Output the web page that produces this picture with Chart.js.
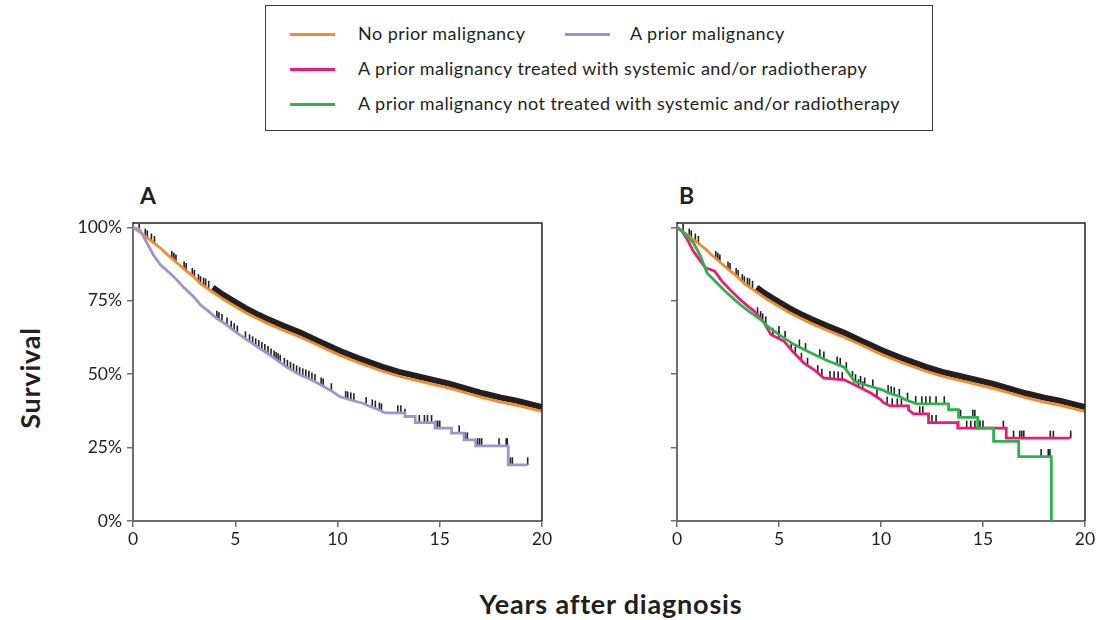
<!DOCTYPE html>
<html lang="en">
<head>
<meta charset="UTF-8">
<title>Survival by prior malignancy</title>
<script src="https://cdn.jsdelivr.net/npm/chart.js"></script>
<style>
  body { margin: 0; background: #fff; font-family: Lato, sans-serif; color: #231f20; }
  #page { position: relative; width: 1099px; height: 620px; overflow: hidden; }
  #legendBox { position: absolute; left: 265px; top: 5px; width: 668px; height: 126px; border: 1.5px solid #3c3c3c; box-sizing: border-box; }
  .key { position: absolute; font-size: 18px; letter-spacing: 0.45px; line-height: 20px; white-space: nowrap; }
  .swatch { position: absolute; width: 45px; height: 3px; }
  .panelTitle { position: absolute; top: 181px; font-size: 23px; font-weight: bold; }
  .axisTitle { position: absolute; font-size: 27px; letter-spacing: 0.8px; font-weight: bold; white-space: nowrap; }
  canvas { position: absolute; top: 180px; }
</style>
</head>
<body>
<div id="page">
  <div id="legendBox"></div>
  <div class="swatch" style="left:290px; top:33px; background:#f38b2a"></div>
  <div class="key" style="left:358px; top:23px">No prior malignancy</div>
  <div class="swatch" style="left:565px; top:33px; background:#9d95d3"></div>
  <div class="key" style="left:630px; top:23px">A prior malignancy</div>
  <div class="swatch" style="left:290px; top:68px; background:#ec1c7d"></div>
  <div class="key" style="left:358px; top:58px">A prior malignancy treated with systemic and/or radiotherapy</div>
  <div class="swatch" style="left:290px; top:103px; background:#2cb34b"></div>
  <div class="key" style="left:358px; top:93px">A prior malignancy not treated with systemic and/or radiotherapy</div>

  <div class="panelTitle" style="left:140px">A</div>
  <div class="panelTitle" style="left:679px">B</div>
  <div class="axisTitle" style="left:29px; top:378px; transform: translate(-50%, -50%) rotate(-90deg)">Survival</div>
  <div class="axisTitle" style="left:611px; top:603px; transform: translate(-50%, -50%)">Years after diagnosis</div>

  <canvas id="chartA" width="560" height="380" style="left:0px"></canvas>
  <canvas id="chartB" width="539" height="380" style="left:560px"></canvas>
</div>

<script>
  // axis ticks
  const xTicks = [0, 5, 10, 15, 20];
  const yTicks = [0, 25, 50, 75, 100];

  // survival curves: [years, % surviving]
  const noPrior = [[0,100],[0.3,98.6],[0.7,96.4],[1.0,94.8],[1.35,92.9],[1.7,90.6],[2.1,88.2],[2.5,85.8],[2.9,83.6],
    [3.3,80.8],[3.9,78.0],[4.4,75.6],[4.9,73.5],[5.5,71.0],[6.0,69.2],[6.55,67.4],[7.35,65.0],[8.2,62.6],[9.0,60.0],
    [10.1,56.5],[11.0,54.0],[12.2,51.0],[13.0,49.3],[13.85,47.9],[15.5,45.2],[16.3,43.6],[17.1,42.0],[18.0,40.5],
    [18.75,39.5],[20.0,37.3]];

  const priorAny = [[0,100],[0.34,99.2],[0.67,94.8],[1.0,90.6],[1.32,87.4],[1.97,83.4],[2.45,79.8],[2.95,76.5],
    [3.3,73.6],[3.7,71.4],[4.09,69.0],[4.5,67.2],[4.9,65.0],[5.5,62.0],[6.2,58.8],[6.8,56.0],[7.5,52.5],[8.17,49.7],
    [8.65,48.4],[9.2,46.3],[9.8,43.9],[10.1,42.4],[10.6,41.3],[11.2,40.2],[11.6,39.0],[12.0,38.0],[12.32,36.8],
    [13.3,36.8],[13.3,35.6],[13.8,35.6],[13.8,33.5],[14.77,33.5],[14.77,31.6],[15.58,31.6],[15.58,29.9],[16.19,29.9],
    [16.19,27.6],[16.76,27.6],[16.76,25.6],[18.35,25.6],[18.35,19.1],[19.3,19.1]];

  const priorTreated = [[0,100],[0.25,98.7],[0.5,95.9],[0.8,91.9],[1.15,88.5],[1.4,86.2],[1.85,85.1],[2.2,81.7],
    [2.6,78.8],[3.1,75.4],[3.5,73.0],[3.8,71.4],[4.27,67.5],[4.6,63.5],[5.25,61.2],[5.74,57.2],[6.23,53.8],[6.72,51.5],
    [7.2,48.7],[8.2,48.1],[8.7,46.4],[9.5,43.6],[10.0,41.3],[10.1,40.4],[10.45,39.2],[11.35,39.2],[11.35,37.9],
    [11.6,36.5],[12.33,36.5],[12.33,33.5],[13.76,33.5],[13.76,31.6],[16.14,31.6],[16.14,28.2],[19.28,28.2]];

  const priorNotTreated = [[0,100],[0.33,98.2],[0.8,94.8],[1.15,90.2],[1.47,84.5],[1.96,81.1],[2.45,77.7],[3.1,73.7],
    [3.5,71.6],[4.1,68.6],[4.5,66.0],[4.93,63.8],[5.74,60.1],[6.57,57.2],[7.38,54.6],[8.2,52.4],[8.5,49.5],[8.7,47.5],
    [9.5,45.8],[10.1,44.6],[10.3,43.8],[10.9,42.4],[11.2,41.3],[11.76,39.9],[13.31,39.9],[13.31,37.9],[13.8,37.9],
    [13.8,35.3],[14.74,35.3],[14.74,31.6],[15.52,31.6],[15.52,27.1],[16.75,27.1],[16.75,21.9],[18.35,21.9],[18.35,0]];

  // censoring marks (tick tops sit just above each curve)
  const noPriorCensor = [[0.3,99.9],[0.6,98.3],[0.7,97.7],[0.9,96.6],[1.05,95.8],[1.9,90.7],[2.0,90.1],[2.1,89.5],
    [2.5,87.1],[2.6,86.6],[2.9,84.9],[3.0,84.2],[3.2,82.8],[3.3,82.1],[3.45,81.6],[3.55,81.3],[3.7,80.5]];
  // from ~4 years the marks merge into a solid band
  const noPriorCensorBand = [[3.9,79.5],[4.4,77.1],[4.9,75.0],[5.5,72.5],[6.0,70.7],[6.55,68.9],[7.35,66.5],[8.2,64.1],
    [9.0,61.5],[10.1,58.0],[11.0,55.5],[12.2,52.5],[13.0,50.8],[13.85,49.4],[15.5,46.7],[16.3,45.1],[17.1,43.5],
    [18.0,42.0],[18.75,41.0],[20.0,38.8]];

  const priorAnyCensor = [[4.1,70.3],[4.2,69.8],[4.35,69.2],[4.6,68.0],[4.8,66.9],[4.95,66.1],[5.1,65.3],[5.5,63.3],
    [5.7,62.3],[5.85,61.6],[6.0,60.9],[6.15,60.3],[6.3,59.7],[6.45,59.0],[6.6,58.3],[6.75,57.5],[6.9,56.8],[7.0,56.3],
    [7.1,55.8],[7.2,55.3],[7.4,54.3],[7.55,53.6],[7.7,52.9],[7.85,52.3],[8.0,51.7],[8.15,51.1],[8.3,50.7],[8.45,50.3],
    [8.6,49.9],[8.75,49.3],[8.9,48.8],[9.2,47.6],[9.3,47.2],[9.7,45.6],[10.4,43.0],[10.5,42.8],[10.65,42.5],[10.8,42.2],
    [11.4,40.9],[11.7,40.1],[11.85,39.7],[12.05,39.1],[12.15,38.7],[12.95,38.1],[13.1,38.1],[13.3,36.9],[13.8,34.8],
    [14.0,34.8],[14.25,34.8],[14.4,34.8],[14.6,34.8],[14.8,32.9],[14.9,32.9],[15.0,32.9],[15.95,31.2],[16.25,28.9],
    [16.35,28.9],[16.85,26.9],[16.95,26.9],[17.05,26.9],[17.9,26.9],[18.25,26.9],[18.3,26.9],[18.45,20.4],[18.55,20.4],
    [19.3,20.4]];

  const priorTreatedCensor = [[3.95,71.5],[4.1,70.2],[4.7,64.5],[5.0,63.4],[5.6,59.6],[5.8,58.1],[6.1,56.0],[6.4,54.3],
    [6.9,51.8],[7.1,50.6],[7.5,49.8],[7.7,49.7],[7.9,49.6],[8.1,49.4],[8.9,47.0],[9.1,46.3],[9.8,43.5],[10.3,41.0],
    [10.55,40.5],[10.8,40.5],[11.0,40.5],[11.9,37.8],[12.05,37.8],[12.5,34.8],[12.7,34.8],[13.8,32.9],[14.2,32.9],
    [14.4,32.9],[14.6,32.9],[14.85,32.9],[15.0,32.9],[16.0,32.9],[16.5,29.5],[16.8,29.5],[16.9,29.5],[17.0,29.5],
    [18.3,29.5],[18.45,29.5],[19.3,29.5]];

  const priorNotTreatedCensor = [[4.2,69.4],[4.35,68.4],[5.0,65.1],[5.3,63.4],[6.0,60.5],[6.3,59.3],[7.0,57.2],[7.2,56.4],
    [7.85,54.7],[8.0,54.3],[8.3,52.8],[8.6,49.8],[8.75,48.7],[9.0,48.1],[9.2,47.6],[9.6,46.9],[10.35,45.0],[10.5,44.6],
    [10.65,44.3],[10.9,43.7],[11.3,42.4],[11.7,41.3],[12.0,41.2],[12.2,41.2],[12.4,41.2],[12.7,41.2],[13.1,41.2],
    [13.9,36.6],[14.5,36.6],[14.6,36.6],[17.85,23.2],[18.2,23.2],[18.28,23.2]];

  const ink = '#231f20';
  const axisGrey = '#6d6e71';

  Chart.defaults.font.family = 'Lato, sans-serif';
  Chart.defaults.font.size = 17.5;
  Chart.defaults.color = ink;

  // top and right edges of the plot box
  const frame = {
    id: 'frame',
    afterDraw(chart) {
      const { ctx, chartArea: a } = chart;
      ctx.save();
      ctx.strokeStyle = ink;
      ctx.lineWidth = 1.5;
      ctx.beginPath();
      ctx.moveTo(a.left, a.top);
      ctx.lineTo(a.right, a.top);
      ctx.lineTo(a.right, a.bottom);
      ctx.stroke();
      ctx.restore();
    }
  };

  function curve(data, color, width, order) {
    return { data, showLine: true, borderColor: color, borderWidth: width, pointRadius: 0, order };
  }

  function censor(data) {
    return { data, showLine: false, pointStyle: 'line', pointRotation: 90, pointRadius: 3.8,
      pointBorderColor: ink, pointBorderWidth: 1.6, order: 5 };
  }

  function panel(id, datasets, showYLabels, yWidth, padRight) {
    return new Chart(document.getElementById(id), {
      type: 'scatter',
      data: { datasets },
      options: {
        responsive: false,
        animation: false,
        events: [],
        layout: { padding: { top: 43, right: padRight, left: 0, bottom: 0 } },
        plugins: { legend: { display: false }, tooltip: { enabled: false } },
        scales: {
          x: {
            type: 'linear', min: 0, max: 20,
            afterBuildTicks: s => { s.ticks = xTicks.map(v => ({ value: v })); },
            afterFit: s => { s.height = 39; },
            grid: { drawOnChartArea: false, tickLength: 6, color: axisGrey, lineWidth: 1.5 },
            border: { color: axisGrey, width: 2 },
            ticks: { padding: 2, color: ink }
          },
          y: {
            type: 'linear', min: 0, max: 101.5,
            afterBuildTicks: s => { s.ticks = yTicks.map(v => ({ value: v })); },
            afterFit: s => { s.width = yWidth; },
            grid: { drawOnChartArea: false, tickLength: 6, color: axisGrey, lineWidth: 1.5 },
            border: { color: axisGrey, width: 2 },
            ticks: { display: showYLabels, padding: 5, color: ink, callback: v => v + '%' }
          }
        }
      },
      plugins: [frame]
    });
  }

  panel('chartA', [
    curve(noPriorCensorBand, ink, 6, 6),
    censor(noPriorCensor),
    censor(priorAnyCensor),
    curve(noPrior, '#f38b2a', 2.8, 2),
    curve(priorAny, '#9d95d3', 2.8, 1)
  ], true, 133, 18);

  panel('chartB', [
    curve(noPriorCensorBand, ink, 6, 6),
    censor(noPriorCensor),
    censor(priorTreatedCensor),
    censor(priorNotTreatedCensor),
    curve(noPrior, '#f38b2a', 2.8, 3),
    curve(priorTreated, '#ec1c7d', 2.8, 2),
    curve(priorNotTreated, '#2cb34b', 2.8, 1)
  ], false, 117, 14);
</script>
</body>
</html>
